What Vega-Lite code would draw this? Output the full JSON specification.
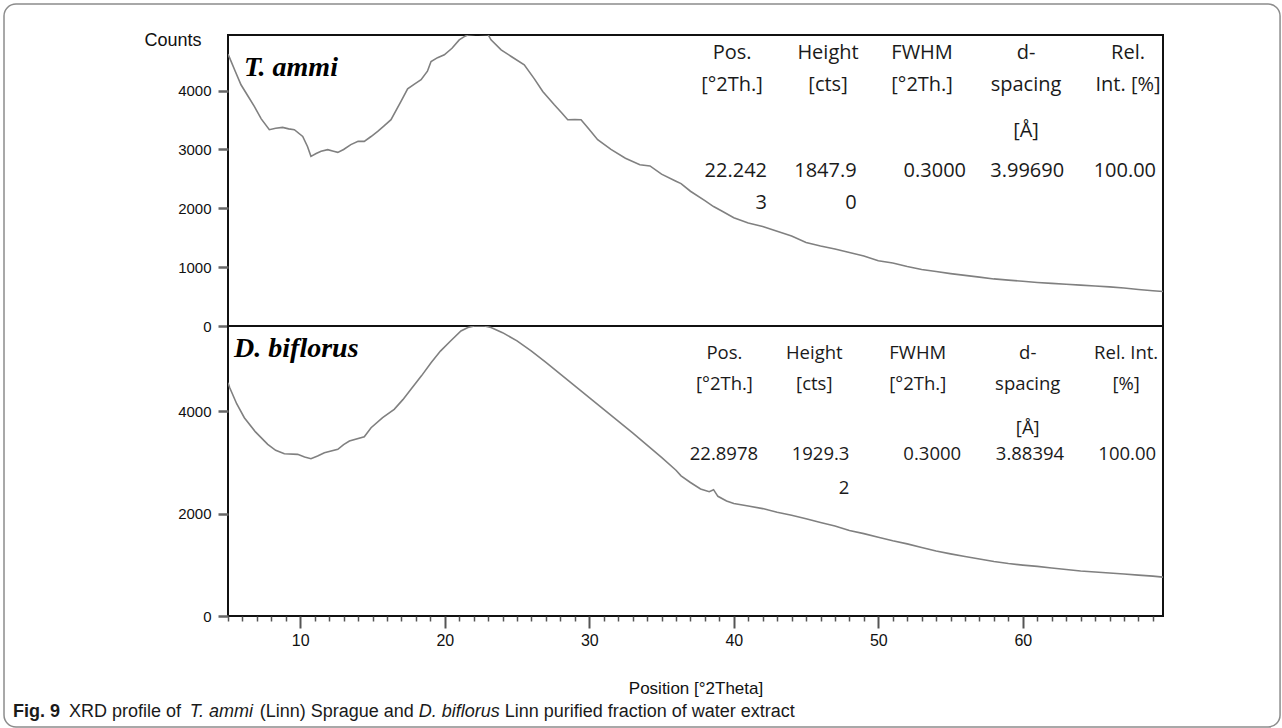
{
  "$schema": "https://vega.github.io/schema/vega-lite/v6.json",
  "background": "white",
  "padding": {"left": 2, "top": 2, "right": 2, "bottom": 1},
  "bounds": "flush",
  "spacing": 0,
  "datasets": {
    "tammi": [
      {"x":5.0,"y":4620},{"x":5.12,"y":4551},{"x":5.5,"y":4330},{"x":5.9,"y":4099},{"x":6.4,"y":3900},{"x":6.82,"y":3731},{"x":7.3,"y":3520},{"x":7.86,"y":3336},{"x":8.3,"y":3360},{"x":8.78,"y":3375},{"x":9.2,"y":3350},{"x":9.59,"y":3336},{"x":10.17,"y":3222},{"x":10.5,"y":3050},{"x":10.74,"y":2883},{"x":11.1,"y":2930},{"x":11.44,"y":2968},{"x":11.9,"y":2997},{"x":12.3,"y":2970},{"x":12.6,"y":2951},{"x":13.0,"y":3000},{"x":13.5,"y":3082},{"x":14.0,"y":3140},{"x":14.43,"y":3138},{"x":14.9,"y":3220},{"x":15.36,"y":3307},{"x":15.8,"y":3400},{"x":16.28,"y":3506},{"x":16.97,"y":3816},{"x":17.43,"y":4030},{"x":17.9,"y":4110},{"x":18.36,"y":4184},{"x":18.8,"y":4330},{"x":19.05,"y":4494},{"x":19.5,"y":4560},{"x":19.97,"y":4608},{"x":20.5,"y":4720},{"x":21.0,"y":4862},{"x":21.35,"y":4918},{"x":21.6,"y":4945},{"x":22.2,"y":4960},{"x":23.0,"y":4950},{"x":23.2,"y":4862},{"x":23.9,"y":4693},{"x":24.6,"y":4580},{"x":25.5,"y":4438},{"x":26.2,"y":4200},{"x":26.78,"y":3986},{"x":27.58,"y":3760},{"x":28.1,"y":3620},{"x":28.51,"y":3506},{"x":29.0,"y":3510},{"x":29.43,"y":3506},{"x":30.0,"y":3340},{"x":30.58,"y":3166},{"x":31.5,"y":3000},{"x":32.5,"y":2850},{"x":33.5,"y":2740},{"x":34.2,"y":2720},{"x":35,"y":2580},{"x":36,"y":2460},{"x":36.35,"y":2420},{"x":37,"y":2290},{"x":38,"y":2130},{"x":38.6,"y":2030},{"x":39.2,"y":1950},{"x":40,"y":1840},{"x":41,"y":1750},{"x":42,"y":1690},{"x":43,"y":1610},{"x":44,"y":1530},{"x":45,"y":1420},{"x":46,"y":1360},{"x":47,"y":1310},{"x":48,"y":1250},{"x":49,"y":1190},{"x":50,"y":1110},{"x":51,"y":1070},{"x":52,"y":1010},{"x":53,"y":960},{"x":54,"y":925},{"x":55,"y":890},{"x":56,"y":860},{"x":57,"y":830},{"x":58,"y":800},{"x":59,"y":780},{"x":60,"y":760},{"x":61,"y":740},{"x":62,"y":725},{"x":63,"y":710},{"x":64,"y":695},{"x":65,"y":680},{"x":66,"y":665},{"x":67,"y":645},{"x":68,"y":620},{"x":69,"y":600},{"x":69.7,"y":585}
    ],
    "dbif": [
      {"x":5.0,"y":4560},{"x":5.12,"y":4463},{"x":5.6,"y":4150},{"x":6.13,"y":3877},{"x":6.9,"y":3600},{"x":7.75,"y":3357},{"x":8.3,"y":3240},{"x":8.9,"y":3173},{"x":9.82,"y":3161},{"x":10.3,"y":3110},{"x":10.74,"y":3075},{"x":11.2,"y":3130},{"x":11.67,"y":3193},{"x":12.6,"y":3259},{"x":13.0,"y":3350},{"x":13.4,"y":3421},{"x":14.43,"y":3505},{"x":14.9,"y":3681},{"x":15.7,"y":3877},{"x":16.5,"y":4041},{"x":17.1,"y":4230},{"x":17.66,"y":4432},{"x":18.4,"y":4700},{"x":19.05,"y":4952},{"x":19.7,"y":5180},{"x":20.4,"y":5376},{"x":21.12,"y":5572},{"x":21.6,"y":5640},{"x":22.05,"y":5670},{"x":22.75,"y":5670},{"x":23.2,"y":5640},{"x":24,"y":5540},{"x":25,"y":5380},{"x":26,"y":5180},{"x":27,"y":4960},{"x":28,"y":4730},{"x":29,"y":4500},{"x":30,"y":4270},{"x":31,"y":4040},{"x":32,"y":3810},{"x":33,"y":3580},{"x":34,"y":3340},{"x":35,"y":3100},{"x":36,"y":2850},{"x":36.35,"y":2740},{"x":37,"y":2610},{"x":37.7,"y":2483},{"x":38.3,"y":2430},{"x":38.6,"y":2470},{"x":38.9,"y":2340},{"x":39.5,"y":2250},{"x":40,"y":2200},{"x":41,"y":2150},{"x":42,"y":2100},{"x":43,"y":2030},{"x":44,"y":1970},{"x":45,"y":1900},{"x":46,"y":1830},{"x":47,"y":1760},{"x":48,"y":1670},{"x":49,"y":1610},{"x":50,"y":1540},{"x":51,"y":1470},{"x":52,"y":1410},{"x":53,"y":1340},{"x":54,"y":1270},{"x":55,"y":1215},{"x":56,"y":1165},{"x":57,"y":1115},{"x":58,"y":1065},{"x":59,"y":1025},{"x":60,"y":995},{"x":61,"y":970},{"x":62,"y":940},{"x":63,"y":910},{"x":64,"y":880},{"x":65,"y":860},{"x":66,"y":840},{"x":67,"y":820},{"x":68,"y":800},{"x":69,"y":780},{"x":69.7,"y":760}
    ],
    "tHead": [
      {"x":39.88,"y":4635,"t":"Pos."},{"x":39.88,"y":4099,"t":"[°2Th.]"},
      {"x":46.52,"y":4635,"t":"Height"},{"x":46.52,"y":4099,"t":"[cts]"},
      {"x":53.03,"y":4635,"t":"FWHM"},{"x":53.03,"y":4099,"t":"[°2Th.]"},
      {"x":60.22,"y":4635,"t":"d-"},{"x":60.22,"y":4099,"t":"spacing"},{"x":60.22,"y":3307,"t":"[Å]"},
      {"x":67.28,"y":4635,"t":"Rel."},{"x":67.28,"y":4099,"t":"Int. [%]"}
    ],
    "tVal": [
      {"x":42.3,"y":2629,"t":"22.242"},{"x":42.3,"y":2091,"t":"3"},
      {"x":48.5,"y":2629,"t":"1847.9"},{"x":48.5,"y":2091,"t":"0"},
      {"x":56.07,"y":2629,"t":"0.3000"},{"x":62.86,"y":2629,"t":"3.99690"},{"x":69.22,"y":2629,"t":"100.00"}
    ],
    "tName": [{"x":6.11,"y":4240,"t":"T. ammi"}],
    "bHead": [
      {"x":39.35,"y":5148,"t":"Pos."},{"x":39.35,"y":4529,"t":"[°2Th.]"},
      {"x":45.57,"y":5148,"t":"Height"},{"x":45.57,"y":4529,"t":"[cts]"},
      {"x":52.73,"y":5148,"t":"FWHM"},{"x":52.73,"y":4529,"t":"[°2Th.]"},
      {"x":60.34,"y":5148,"t":"d-"},{"x":60.34,"y":4529,"t":"spacing"},{"x":60.34,"y":3682,"t":"[Å]"},
      {"x":67.15,"y":5148,"t":"Rel. Int."},{"x":67.15,"y":4529,"t":"[%]"}
    ],
    "bVal": [
      {"x":41.68,"y":3173,"t":"22.8978"},
      {"x":48.0,"y":3173,"t":"1929.3"},{"x":48.0,"y":2508,"t":"2"},
      {"x":55.73,"y":3173,"t":"0.3000"},{"x":62.86,"y":3173,"t":"3.88394"},{"x":69.22,"y":3173,"t":"100.00"}
    ],
    "bName": [{"x":5.42,"y":5063,"t":"D. biflorus"}],
    "frame": [{"x":-10.5,"x2":77.8,"y":-2170,"y2":11966}],
    "capBold": [{"x":-9.879,"y":-1975,"t":"Fig. 9"}],
    "capItal": [{"x":2.350,"y":-1975,"t":"T. ammi"},{"x":18.196,"y":-1975,"t":"D. biflorus"}],
    "capReg": [{"x":-6.003,"y":-1975,"t":"XRD profile of"},{"x":7.194,"y":-1975,"t":"(Linn) Sprague and"},{"x":24.147,"y":-1975,"t":"Linn purified fraction of water extract"}]
  },
  "vconcat": [
    {
      "width": 935,
      "height": 291,
      "encoding": {
        "x": {"field": "x", "type": "quantitative", "scale": {"domain": [5, 69.7], "nice": false, "zero": false}, "axis": null},
        "y": {"field": "y", "type": "quantitative", "scale": {"domain": [0, 4945], "nice": false},
              "axis": {"values": [0, 1000, 2000, 3000, 4000], "format": "d", "title": "Counts", "titleAngle": 0, "titleX": -27, "titleY": 5, "titleAlign": "right", "titleBaseline": "middle", "titleFontSize": 18}}
      },
      "layer": [
        {
          "data": {"name": "tammi"},
          "mark": {"type": "line", "color": "#808080", "strokeWidth": 1.6, "clip": true}
        },
        {
          "data": {"name": "tHead"},
          "mark": {"type": "text", "align": "center", "baseline": "middle", "font": "Open Sans", "fontSize": 20, "color": "#1a1a1a"},
          "encoding": {"text": {"field": "t"}}
        },
        {
          "data": {"name": "tVal"},
          "mark": {"type": "text", "align": "right", "baseline": "middle", "font": "Open Sans", "fontSize": 20, "color": "#1a1a1a"},
          "encoding": {"text": {"field": "t"}}
        },
        {
          "data": {"name": "tName"},
          "mark": {"type": "text", "align": "left", "baseline": "alphabetic", "font": "Liberation Serif", "fontSize": 28, "fontWeight": "bold", "fontStyle": "italic", "color": "#000"},
          "encoding": {"text": {"field": "t"}}
        }
      ]
    },
    {
      "width": 935,
      "height": 290,
      "encoding": {
        "x": {"field": "x", "type": "quantitative", "scale": {"domain": [5, 69.7], "nice": false, "zero": false},
              "axis": {
                "values": [5,6,7,8,9,10,11,12,13,14,15,16,17,18,19,20,21,22,23,24,25,26,27,28,29,30,31,32,33,34,35,36,37,38,39,40,41,42,43,44,45,46,47,48,49,50,51,52,53,54,55,56,57,58,59,60,61,62,63,64,65,66,67,68,69],
                "format": "d",
                "labelExpr": "datum.value % 10 === 0 ? datum.label : ''",
                "tickSize": {"condition": {"test": "datum.value % 10 === 0", "value": 12}, "value": 5},
                "tickWidth": {"condition": {"test": "datum.value % 10 === 0", "value": 2}, "value": 1.5},
                "tickColor": "#555",
                "labelFontSize": 16,
                "labelPadding": 4,
                "labelFlush": false,
                "labelOverlap": false,
                "title": "Position [°2Theta]",
                "titleFontSize": 17,
                "titlePadding": 32
              }},
        "y": {"field": "y", "type": "quantitative", "scale": {"domain": [0, 5670], "nice": false},
              "axis": {"values": [0, 2000, 4000], "format": "d", "title": null}}
      },
      "layer": [
        {
          "data": {"name": "dbif"},
          "mark": {"type": "line", "color": "#808080", "strokeWidth": 1.6, "clip": true}
        },
        {
          "data": {"name": "bHead"},
          "mark": {"type": "text", "align": "center", "baseline": "middle", "font": "Open Sans", "fontSize": 18.5, "color": "#1a1a1a"},
          "encoding": {"text": {"field": "t"}}
        },
        {
          "data": {"name": "bVal"},
          "mark": {"type": "text", "align": "right", "baseline": "middle", "font": "Open Sans", "fontSize": 18.5, "color": "#1a1a1a"},
          "encoding": {"text": {"field": "t"}}
        },
        {
          "data": {"name": "bName"},
          "mark": {"type": "text", "align": "left", "baseline": "alphabetic", "font": "Liberation Serif", "fontSize": 28, "fontWeight": "bold", "fontStyle": "italic", "color": "#000"},
          "encoding": {"text": {"field": "t"}}
        },
        {
          "data": {"name": "frame"},
          "mark": {"type": "rect", "fill": "transparent", "stroke": "#8c8c8c", "strokeWidth": 1.5, "cornerRadius": 12},
          "encoding": {"x2": {"field": "x2"}, "y2": {"field": "y2"}}
        },
        {
          "data": {"name": "capBold"},
          "mark": {"type": "text", "align": "left", "baseline": "alphabetic", "font": "Liberation Sans", "fontSize": 18, "fontWeight": "bold", "color": "#1a1a1a"},
          "encoding": {"text": {"field": "t"}}
        },
        {
          "data": {"name": "capItal"},
          "mark": {"type": "text", "align": "left", "baseline": "alphabetic", "font": "Liberation Sans", "fontSize": 18, "fontStyle": "italic", "color": "#1a1a1a"},
          "encoding": {"text": {"field": "t"}}
        },
        {
          "data": {"name": "capReg"},
          "mark": {"type": "text", "align": "left", "baseline": "alphabetic", "font": "Liberation Sans", "fontSize": 18, "color": "#1a1a1a"},
          "encoding": {"text": {"field": "t"}}
        }
      ]
    }
  ],
  "config": {
    "view": {"stroke": "#111", "strokeWidth": 2},
    "axis": {
      "grid": false,
      "domain": false,
      "tickColor": "#666",
      "tickWidth": 2.5,
      "tickSize": 10,
      "labelPadding": 7,
      "labelFont": "Liberation Sans",
      "labelFontSize": 15,
      "labelColor": "#111",
      "titleFont": "Liberation Sans",
      "titleColor": "#111",
      "titleFontWeight": "normal"
    }
  }
}
